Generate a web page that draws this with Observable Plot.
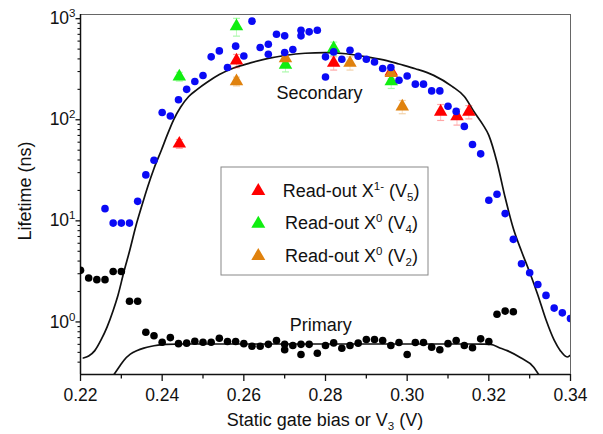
<!DOCTYPE html>
<html>
<head>
<meta charset="utf-8">
<script src="https://cdn.jsdelivr.net/npm/d3@7"></script>
<script src="https://cdn.jsdelivr.net/npm/@observablehq/plot@0.6"></script>
<style>
  html, body { margin: 0; padding: 0; background: #fff; }
  #chart { position: relative; width: 603px; height: 434px; }
</style>
</head>
<body>
<div id="chart"></div>
<script>
// ---------- data ----------
const blackV = [0.220,0.222,0.224,0.226,0.228,0.230,0.232,0.234,0.236,0.238,0.240,0.242,0.244,0.246,0.248,0.250,0.252,0.254,0.256,0.258,0.260,0.262,0.264,0.266,0.268,0.270,0.270,0.272,0.274,0.274,0.276,0.278,0.280,0.282,0.284,0.286,0.288,0.290,0.292,0.294,0.296,0.298,0.300,0.302,0.304,0.306,0.308,0.310,0.312,0.314,0.316,0.318,0.320,0.322,0.324,0.326];
const blackL = [3.24,2.72,2.62,2.62,3.16,3.16,1.60,1.60,0.79,0.73,0.63,0.70,0.61,0.617,0.645,0.63,0.63,0.69,0.64,0.64,0.61,0.575,0.575,0.60,0.655,0.60,0.53,0.585,0.60,0.477,0.60,0.49,0.585,0.62,0.55,0.585,0.617,0.67,0.67,0.655,0.585,0.627,0.477,0.627,0.627,0.563,0.53,0.61,0.655,0.585,0.555,0.68,0.64,1.19,1.28,1.26];

const blueV = [0.226,0.228,0.230,0.232,0.234,0.236,0.238,0.240,0.242,0.244,0.246,0.248,0.250,0.252,0.254,0.256,0.258,0.260,0.262,0.264,0.266,0.266,0.268,0.270,0.270,0.272,0.274,0.274,0.276,0.278,0.280,0.280,0.282,0.284,0.286,0.288,0.290,0.292,0.294,0.296,0.298,0.300,0.302,0.304,0.306,0.308,0.310,0.312,0.314,0.316,0.318,0.320,0.322,0.324,0.326,0.328,0.330,0.332,0.334,0.336,0.338,0.340];
const blueL = [13.2,9.5,9.5,9.5,15.6,28.5,39.7,118,109,158,200,239,274,419,480,329,535,428,945,518,559,445,702,676,463,495,769,676,741,769,419,265,469,397,488,425,397,373,321,329,246,271,225,225,193,193,136,121,86,57,46,16,18.3,11.8,6.56,3.77,3.07,2.35,1.83,1.37,1.23,1.08];

const redV = [0.2442,0.2582,0.2820,0.2961,0.3082,0.3122,0.3151];
const redL = [58,385,365,300,120,108,120];
const redErr = [0.10,0.15,0.15,0.15,0.18,0.18,0.15];

const greenV = [0.2442,0.2582,0.2702,0.2820,0.2961];
const greenL = [268,840,350,510,240];
const greenErr = [0.10,0.20,0.15,0.15,0.15];

const orangeV = [0.2582,0.2702,0.2860,0.2961,0.2988];
const orangeL = [240,405,365,290,135];
const orangeErr = [0.10,0.15,0.15,0.15,0.15];

// model curves
const secCurveV = [0.2207,0.2220,0.2235,0.2250,0.2265,0.2280,0.2292,0.2306,0.2320,0.2336,0.2350,0.2365,0.2380,0.2398,0.2412,0.2428,0.2445,0.2465,0.2486,0.2510,0.2540,0.2575,0.2616,0.2660,0.2700,0.2750,0.2800,0.2850,0.2900,0.2950,0.2980,0.3020,0.3065,0.3110,0.3140,0.3165,0.3185,0.3200,0.3220,0.3240,0.3260,0.3280,0.3300,0.3320,0.3340,0.3360,0.3375,0.3392,0.3400];
const secCurveL = [0.44,0.46,0.52,0.66,0.89,1.30,1.85,3.1,5.0,9.0,14,22,33,50,70,100,133,170,200,235,280,325,365,405,432,455,462,450,420,385,356,320,275,214,170,118,90,70,38,17,8.4,5.0,3.1,1.85,1.05,0.66,0.52,0.45,0.47];

const primCurveV = [0.2282,0.2295,0.2306,0.2322,0.2339,0.2355,0.2371,0.2390,0.2410,0.2450,0.2800,0.3150,0.3185,0.3204,0.3229,0.3245,0.3278,0.3310,0.3322];
const primCurveL = [0.302,0.36,0.416,0.48,0.522,0.55,0.572,0.59,0.60,0.605,0.605,0.605,0.603,0.60,0.55,0.52,0.442,0.357,0.302];

// series / labels
const seriesNames = ["Read-out X", "Read-out X", "Read-out X"];
const seriesSup = ["1-", "0", "0"];
const seriesSub = ["5", "4", "2"];
const seriesColors = ["#ff0000", "#10ee10", "#e0820e"];
const blueColor = "#0a0af5";

const curveLabels = ["Secondary", "Primary"];
const curveLabelV = [0.27854, 0.27886];
const curveLabelL = [181, 0.925];

const xDomain = [0.22, 0.34];
const yDomain = [0.302, 1100];
const xMajor = [0.22, 0.24, 0.26, 0.28, 0.30, 0.32, 0.34];
const xMinor = [0.23, 0.25, 0.27, 0.29, 0.31, 0.33];
const yMajor = [1, 10, 100, 1000];
const yMinor = [0.4,0.5,0.6,0.7,0.8,0.9,2,3,4,5,6,7,8,9,20,30,40,50,60,70,80,90,200,300,400,500,600,700,800,900];
const xLabelParts = ["Static gate bias or V", "3", " (V)"];
const yLabel = "Lifetime (ns)";

// ---------- tables ----------
const zip = (V, L) => V.map((v, i) => ({v, L: L[i]}));
const black = zip(blackV, blackL);
const blue = zip(blueV, blueL);
const secCurve = zip(secCurveV, secCurveL);
const primCurve = zip(primCurveV, primCurveL);
const tri = [
  ...greenV.map((v, i) => ({v, L: greenL[i], e: greenErr[i], c: seriesColors[1]})),
  ...redV.map((v, i) => ({v, L: redL[i], e: redErr[i], c: seriesColors[0]})),
  ...orangeV.map((v, i) => ({v, L: orangeL[i], e: orangeErr[i], c: seriesColors[2]}))
];
const annotations = curveLabels.map((t, i) => ({t, v: curveLabelV[i], L: curveLabelL[i]}));

const capSymbol = { draw(ctx, size) { ctx.moveTo(-3.5, 0); ctx.lineTo(3.5, 0); } };

const FONT = "'Liberation Sans', Arial, Helvetica, sans-serif";
const INK = "#111";

const chart = Plot.plot({
  width: 603,
  height: 434,
  marginLeft: 80,
  marginRight: 33,
  marginTop: 14,
  marginBottom: 60,
  style: { fontFamily: FONT, fontSize: "17.5px", color: INK, background: "#fff", overflow: "visible" },
  x: { domain: xDomain },
  y: { type: "log", domain: yDomain },
  marks: [
    Plot.frame({ stroke: "#666", strokeWidth: 1 }),
    Plot.ruleX([xDomain[0]], { stroke: INK, strokeWidth: 1.5 }),
    Plot.ruleY([yDomain[0]], { stroke: INK, strokeWidth: 1.5 }),
    Plot.axisX({ ticks: xMajor, tickSize: 7, tickPadding: 7, tickFormat: d => d.toFixed(2), label: null, stroke: INK, strokeWidth: 1.3 }),
    Plot.axisX({ ticks: xMinor, tickSize: 4.5, tickFormat: () => "", label: null, stroke: INK, strokeWidth: 1.3 }),
    Plot.axisY({ ticks: yMajor, tickSize: 4.5, tickPadding: 0.5, tickFormat: d => "10^" + Math.round(Math.log10(d)), label: null, stroke: INK, strokeWidth: 1.3 }),
    Plot.axisY({ ticks: yMinor, tickSize: 2.5, tickFormat: () => "", label: null, stroke: INK, strokeWidth: 1.1 }),
    Plot.line(secCurve, { x: "v", y: "L", curve: "monotone-x", stroke: INK, strokeWidth: 1.7, clip: true }),
    Plot.line(primCurve, { x: "v", y: "L", curve: "monotone-x", stroke: INK, strokeWidth: 1.7, clip: true }),
    Plot.ruleX(tri, { x: "v", y1: d => d.L * (1 - d.e), y2: d => d.L * (1 + d.e), stroke: "c", strokeOpacity: 0.25, strokeWidth: 1 }),
    Plot.dot(tri, { x: "v", y: d => d.L * (1 - d.e), symbol: capSymbol, fill: "none", stroke: "c", strokeOpacity: 0.35, strokeWidth: 1.2 }),
    Plot.dot(tri, { x: "v", y: d => d.L * (1 + d.e), symbol: capSymbol, fill: "none", stroke: "c", strokeOpacity: 0.35, strokeWidth: 1.2 }),
    Plot.dot(tri, { x: "v", y: "L", symbol: "triangle", r: 5, fill: "c", stroke: "none" }),
    Plot.dot(black, { x: "v", y: "L", r: 3.8, fill: "#000", stroke: "none", clip: true }),
    Plot.dot(blue, { x: "v", y: "L", r: 3.8, fill: blueColor, stroke: "none", clip: true }),
    Plot.text(annotations, { x: "v", y: "L", text: "t", fontSize: 18, fill: INK, textAnchor: "middle" })
  ]
});

document.getElementById("chart").appendChild(chart);

const S = d3.select(chart);

// superscript exponents on the y tick labels
S.selectAll('g[aria-label="y-axis tick label"] text').each(function () {
  const t = this.textContent;
  if (!t.includes("^")) return;
  const [b, e] = t.split("^");
  const sel = d3.select(this);
  sel.text(b);
  sel.append("tspan").attr("dy", "-7").attr("font-size", "11.5px").text(e);
});

// axis titles
const xl = S.append("text")
  .attr("x", 325).attr("y", 425.5)
  .attr("text-anchor", "middle")
  .attr("font-family", FONT).attr("font-size", 18).attr("fill", INK);
xl.append("tspan").text(xLabelParts[0]);
xl.append("tspan").attr("dy", 4).attr("font-size", "11.5px").text(xLabelParts[1]);
xl.append("tspan").attr("dy", -4).text(xLabelParts[2]);

S.append("text")
  .attr("transform", "translate(31,191) rotate(-90)")
  .attr("text-anchor", "middle")
  .attr("font-family", FONT).attr("font-size", 18).attr("fill", INK)
  .text(yLabel);

// legend box
const lg = S.append("g").attr("font-family", FONT).attr("font-size", 18).attr("fill", INK).attr("text-anchor", "start");
lg.append("rect").attr("x", 221).attr("y", 167).attr("width", 207).attr("height", 108)
  .attr("fill", "#fff").attr("stroke", "#888").attr("stroke-width", 1);
const legTriY = [191, 223.8, 256];
const legTextX = [282.7, 285, 285];
const legTextY = [197.3, 229.3, 261.7];
seriesNames.forEach((name, i) => {
  lg.append("path")
    .attr("d", d3.symbol(d3.symbolTriangle, 85)())
    .attr("transform", `translate(258.3,${legTriY[i]})`)
    .attr("fill", seriesColors[i]);
  const t = lg.append("text").attr("x", legTextX[i]).attr("y", legTextY[i]).attr("text-anchor", "start");
  t.append("tspan").text(name);
  t.append("tspan").attr("dy", -7).attr("font-size", "11.5px").text(seriesSup[i]);
  t.append("tspan").attr("dy", 7).text(" (V");
  t.append("tspan").attr("dy", 4).attr("font-size", "11.5px").text(seriesSub[i]);
  t.append("tspan").attr("dy", -4).text(")");
});
</script>
</body>
</html>
